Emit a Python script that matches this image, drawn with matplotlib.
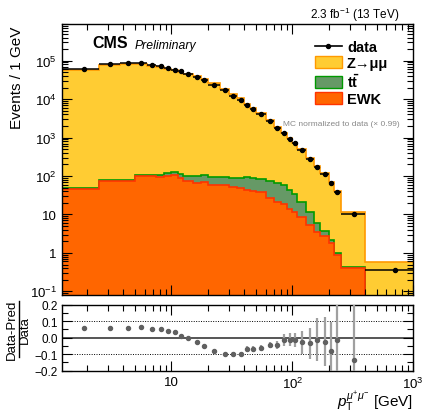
import numpy as np
import matplotlib
matplotlib.use("Agg")
import matplotlib.pyplot as plt
from matplotlib.lines import Line2D
from matplotlib.patches import Patch
from matplotlib.ticker import LogLocator, FuncFormatter, NullFormatter, MultipleLocator

plt.rcParams["font.family"] = ["Liberation Sans", "DejaVu Sans"]
plt.rcParams["mathtext.fontset"] = "custom"
plt.rcParams["mathtext.rm"] = "Liberation Sans"
plt.rcParams["mathtext.it"] = "Liberation Sans:italic"
plt.rcParams["mathtext.bf"] = "Liberation Sans:bold"

# Dimuon pT binning [GeV]
bin_edges = [1.25, 2.5, 3.75, 5, 6.25, 7.5, 8.75, 10, 11.25, 12.5, 15, 17.5, 20, 25, 30,
             35, 40, 45, 50, 60, 70, 80, 90, 100, 110, 130, 150, 170, 200, 220, 250, 400, 1000]

# Events / 1 GeV
data_counts = [59700, 82000, 88000, 85500, 78200, 71400, 63800, 58000, 52400, 45600, 38100,
               30900, 23600, 16800, 12200, 9500, 7160, 5660, 4030, 2670, 1790, 1330, 946, 708,
               480, 277, 175, 116, 65.8, 39.4, 10.4, 0.37]
zmumu_counts = [56250, 77250, 82900, 79670, 73950, 67510, 61190, 55960, 51870, 45680, 39070,
                32400, 25440, 18370, 13320, 10350, 7554, 5957, 4194, 2712, 1804, 1290, 913.4,
                683.9, 472.0, 275.1, 171.1, 115.0, 69.0, 38.87, 11.35, 0.57]
ttbar_counts = [4, 4, 6, 8, 10, 12, 16, 16, 23, 25, 34, 36, 33, 35, 38, 43, 49, 48, 48, 49, 44,
                40, 30, 23, 13, 5.9, 2.4, 1.0, 0.34, 0.12, 0.03, 0]
ewk_counts = [46, 73, 73, 98, 98, 92, 102, 108, 87, 75, 66, 68, 59, 57, 53, 48, 44, 40, 37.6,
              26.3, 20.7, 18.7, 13.8, 11.3, 8.4, 5.4, 3.6, 2.8, 1.86, 0.88, 0.40, 0]
# uncertainty on (Data-Pred)/Data
ratio_err = [0.004] * 8 + [0.005, 0.005, 0.006, 0.006, 0.008, 0.009, 0.01, 0.012,
                           0.016, 0.016, 0.02, 0.02, 0.022, 0.035, 0.038, 0.043, 0.07, 0.095,
                           0.13, 0.15, 0.18, 0.45, 0.6, 0.0]

edges = np.array(bin_edges)
data = np.array(data_counts)
zmm = np.array(zmumu_counts)
tt = np.array(ttbar_counts)
ewk = np.array(ewk_counts)
centers = 0.5 * (edges[:-1] + edges[1:])
pred = zmm + tt + ewk
ratio = (data - pred) / data

c_z, c_z_edge = "#FFCC33", "#FF9900"
c_tt, c_tt_edge = "#669966", "#009900"
c_ewk, c_ewk_edge = "#FF6600", "#FF3300"

W, H = 423, 414
fig = plt.figure(figsize=(W / 100, H / 100), dpi=100)
ax = fig.add_axes([62.3 / W, 1 - 295.7 / H, 351 / W, 270.7 / H])
rax = fig.add_axes([62.3 / W, 1 - 371.7 / H, 351 / W, 66 / H])

# stacked backgrounds
base = 1e-4
for top, fc, ec in [(ewk + tt + zmm, c_z, c_z_edge), (ewk + tt, c_tt, c_tt_edge), (ewk, c_ewk, c_ewk_edge)]:
    ax.stairs(top, edges, baseline=base, fill=True, color=fc, lw=0)
    ax.stairs(top, edges, baseline=None, color=ec, lw=1.2)

ax.errorbar(centers, data, xerr=[centers - edges[:-1], edges[1:] - centers], fmt="o",
            color="black", ms=2.9, elinewidth=1.1, capsize=0, zorder=5)

ax.set_xscale("log")
ax.set_yscale("log")
ax.set_xlim(1.25, 1000)
ax.set_ylim(0.082, 9e5)


def pow_fmt(v, pos):
    e = int(round(np.log10(v)))
    if e == 0:
        return "1"
    if e == 1:
        return "10"
    return r"$10^{%d}$" % e


for a in (ax, rax):
    a.tick_params(which="both", direction="in", top=True, right=True, width=0.8, labelsize=9.5)
    a.tick_params(which="major", length=7)
    a.tick_params(which="minor", length=4)
    a.xaxis.set_major_locator(LogLocator(base=10, numticks=20))
    a.xaxis.set_minor_locator(LogLocator(base=10, subs=np.arange(2, 10), numticks=20))
    a.xaxis.set_minor_formatter(NullFormatter())
    for s in a.spines.values():
        s.set_linewidth(1.0)

ax.yaxis.set_major_locator(LogLocator(base=10, numticks=20))
ax.yaxis.set_minor_locator(LogLocator(base=10, subs=np.arange(2, 10), numticks=20))
ax.yaxis.set_major_formatter(FuncFormatter(pow_fmt))
ax.yaxis.set_minor_formatter(NullFormatter())
ax.tick_params(labelbottom=False, pad=4)

# ratio panel
rax.set_xscale("log")
rax.set_xlim(1.25, 1000)
rax.set_ylim(-0.2, 0.2)
rax.xaxis.set_major_formatter(FuncFormatter(pow_fmt))
rax.yaxis.set_major_locator(MultipleLocator(0.1))
rax.yaxis.set_minor_locator(MultipleLocator(0.05))
rax.yaxis.set_major_formatter(FuncFormatter(lambda v, p: ("%.1f" % v).replace("-", "\u2212")))
rax.tick_params(axis="y", labelsize=8.5, pad=3)
rax.axhline(0, color="#555555", lw=1.4, zorder=1)
for yv in (0.1, -0.1):
    rax.axhline(yv, color="black", lw=0.7, ls=(0, (1, 1.5)), zorder=1)
rax.errorbar(centers, ratio, yerr=ratio_err, fmt="o", color="#606060", ecolor="#a0a0a0",
             ms=2.9, elinewidth=1.6, capsize=0, zorder=3)

# labels
fig.text(17 / W, 1 - 27 / H, "Events / 1 GeV", rotation=90, ha="center", va="top", fontsize=11)
fig.text(413 / W, 1 - 407 / H, r"$p_{\mathrm{T}}^{\mu^{+}\mu^{-}}$ [GeV]", ha="right",
         va="baseline", fontsize=11)
fig.text(400 / W, 1 - 19 / H, r"2.3 fb$^{-1}$ (13 TeV)", ha="right", va="baseline", fontsize=8.5)
fig.text(92.7 / W, 1 - 48.5 / H, "CMS", ha="left", va="baseline", fontsize=11.5, weight="bold")
fig.text(135 / W, 1 - 48.5 / H, "Preliminary", ha="left", va="baseline", fontsize=8.8,
         style="italic")
fig.text(400 / W, 1 - 124 / H, "MC normalized to data (\u00d7 0.99)", ha="right", va="center",
         fontsize=6, color="#888888")

# ratio axis title as a fraction
fig.text(12 / W, 1 - 330 / H, "Data-Pred", rotation=90, ha="center", va="center", fontsize=9.5)
fig.text(25 / W, 1 - 330 / H, "Data", rotation=90, ha="center", va="center", fontsize=9.5)
fig.add_artist(Line2D([18.7 / W, 18.7 / W], [1 - 302 / H, 1 - 358 / H], color="black", lw=1.0,
                      transform=fig.transFigure))

handles = [Line2D([], [], color="black", marker="o", ms=2.9, lw=1.2),
           Patch(facecolor=c_z, edgecolor=c_z_edge, lw=1.0),
           Patch(facecolor=c_tt, edgecolor=c_tt_edge, lw=1.0),
           Patch(facecolor=c_ewk, edgecolor=c_ewk_edge, lw=1.0)]
labels = ["data", "Z\u2192\u03bc\u03bc", r"$\mathbf{t\bar{t}}$", "EWK"]
ax.legend(handles, labels, loc="upper left", bbox_to_anchor=((315 - 62.3) / 351, (295.7 - 41) / 270.7),
          frameon=False, borderpad=0, borderaxespad=0, handlelength=1.85, handleheight=0.9,
          handletextpad=0.35, labelspacing=0.15, prop={"weight": "bold", "size": 10.5})

fig.savefig("out.png", dpi=100)
